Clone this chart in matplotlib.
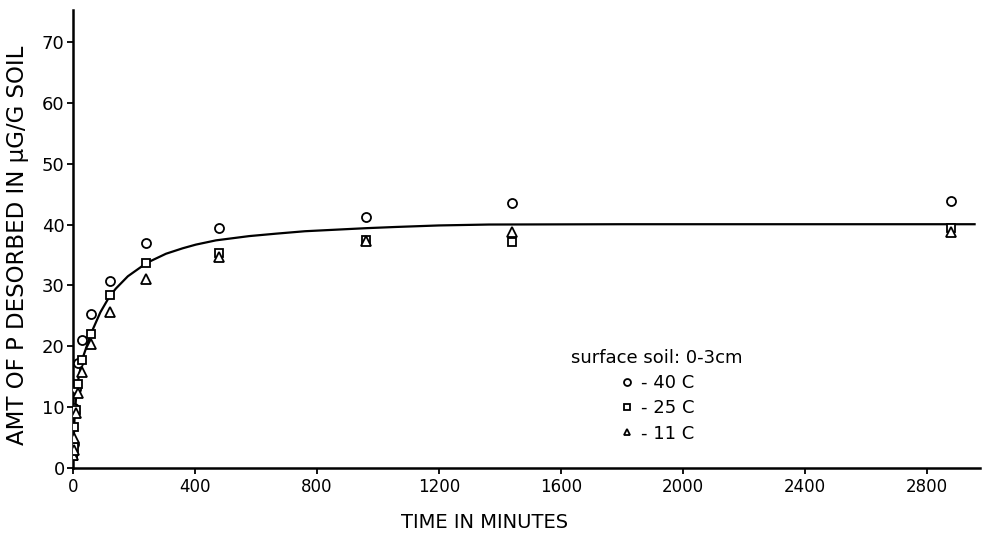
import matplotlib
matplotlib.use("Agg")
import matplotlib.pyplot as plt
from matplotlib.lines import Line2D

# ---- data ----
times = [1, 2, 5, 10, 15, 30, 60, 120, 240, 480, 960, 1440, 2880]
p_40c = [2.5, 4.0, 9.8, 13.0, 17.3, 21.1, 25.3, 30.8, 36.9, 39.4, 41.3, 43.6, 43.9]
p_25c = [2.0, 3.5, 6.8, 9.5, 13.8, 17.7, 22.0, 28.4, 33.6, 35.4, 37.5, 37.1, 39.5]
p_11c = [2.2, 3.0, 5.0, 9.0, 12.4, 15.8, 20.4, 25.7, 31.1, 34.6, 37.3, 38.8, 38.7]

curve_t = [0, 2, 5, 10, 15, 30, 60, 90, 120, 141, 180, 242, 305, 360, 403, 469,
           578, 666, 761, 961, 1059, 1200, 1364, 1800, 2400, 2957]
curve_y = [1.5, 4.0, 8.0, 11.5, 13.9, 17.8, 22.2, 25.6, 28.2, 29.5, 31.5, 33.7,
           35.2, 36.1, 36.7, 37.4, 38.1, 38.5, 38.9, 39.4, 39.6, 39.85, 40.0,
           40.05, 40.05, 40.05]

xticks = [0, 400, 800, 1200, 1600, 2000, 2400, 2800]
yticks = [0, 10, 20, 30, 40, 50, 60, 70]

series_labels = ["- 40 C", "- 25 C", "- 11 C"]
legend_title = "surface soil: 0-3cm"
x_label = "TIME IN MINUTES"
y_label = "AMT OF P DESORBED IN \u03bcG/G SOIL"

plt.rcParams['font.family'] = ['DejaVu Sans']

W, H = 986, 538
fig = plt.figure(figsize=(W / 100, H / 100), dpi=100)
ax = fig.add_axes([0.074, 0.130, 0.920, 0.851])

ax.plot(curve_t, curve_y, color='black', lw=1.6, zorder=2)

mk = dict(linestyle='none', markerfacecolor='white', markeredgecolor='black',
          markeredgewidth=1.3, zorder=3)
ax.plot(times, p_40c, marker='o', markersize=6.5, **mk)
ax.plot(times, p_25c, marker='s', markersize=6, **mk)
ax.plot(times, p_11c, marker='^', markersize=6.5, **mk)

ax.set_xlim(0, 2975)
ax.set_ylim(0, 75.2)
ax.set_xticks(xticks)
ax.set_yticks(yticks)
ax.set_xticklabels([str(v) for v in xticks], fontsize=12)
ax.set_yticklabels([str(v) for v in yticks], fontsize=13)
ax.tick_params(axis='both', direction='out', length=4, width=1.3, colors='black')
ax.tick_params(axis='x', pad=3)
ax.tick_params(axis='y', pad=2)

for s in ['top', 'right']:
    ax.spines[s].set_visible(False)
for s in ['left', 'bottom']:
    ax.spines[s].set_linewidth(1.8)

fig.text(485 / W, 1 - 522 / H, x_label, fontsize=14, ha='center', va='center')
fig.text(18 / W, 1 - 245 / H, y_label, fontsize=16.5, ha='center', va='center',
         rotation=90)

handles = [
    Line2D([], [], marker='o', markersize=5, **mk),
    Line2D([], [], marker='s', markersize=5, **mk),
    Line2D([], [], marker='^', markersize=5, **mk),
]
leg = ax.legend(handles, series_labels, title=legend_title, frameon=False,
                loc='upper center', bbox_to_anchor=(657 / W, 1 - 340 / H),
                bbox_transform=fig.transFigure, fontsize=13, title_fontsize=13,
                handlelength=0.8, handletextpad=0.4, labelspacing=0.4,
                borderpad=0.0)

fig.savefig("out.png", dpi=100)
